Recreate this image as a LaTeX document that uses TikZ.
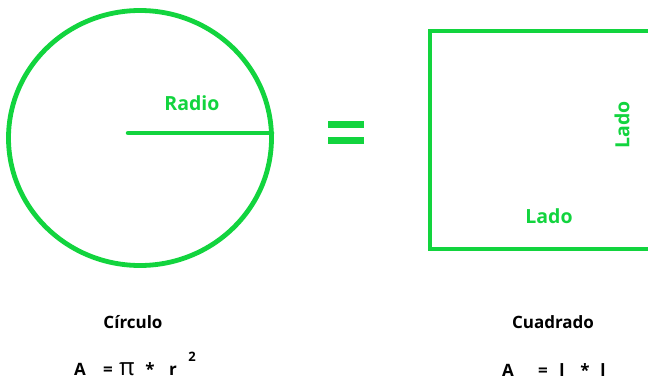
\documentclass[tikz,border=0pt]{standalone}
\usepackage{fontspec}
\setmainfont{Open Sans}
\usetikzlibrary{shapes.geometric}
\definecolor{gr}{RGB}{18,212,62}
\begin{document}
\begin{tikzpicture}[x=1pt,y=-1pt,
  gline/.style={draw=gr,line width=4.8pt},
  glabel/.style={text=gr,font=\fontsize{19.5}{22}\selectfont\bfseries,inner sep=0pt},
  blabel/.style={text=black,font=\fontsize{17}{19}\selectfont\bfseries,inner sep=0pt},
  eqsym/.style={text=black,font=\fontsize{17}{19}\selectfont\bfseries,inner sep=0pt,anchor=base}]
\useasboundingbox (0,0) rectangle (648,380);
% circle
\node[gline,ellipse,minimum width=263pt,minimum height=255pt,inner sep=0pt] (circ) at (140,138) {};
\coordinate (ctr) at (128,133);
\coordinate (rim) at (272,133);
\draw[draw=gr,line width=4.5pt,line cap=round] (ctr) -- (rim);
\node[glabel] (radio) at (192,103) {Radio};
% equals
\node[fill=gr,minimum width=36pt,minimum height=7pt,inner sep=0pt] (eq1) at (346,124) {};
\node[fill=gr,minimum width=36pt,minimum height=7pt,inner sep=0pt] (eq2) at (346,140) {};
% square
\draw[gline] (660,31) -- (430,31) -- (430,249) -- (660,249);
\node[glabel,rotate=90] (lado1) at (622,125) {Lado};
\node[glabel] (lado2) at (549,216) {Lado};
% bottom labels
\node[blabel] (circulo) at (133,322) {Círculo};
\node[blabel] (cuadrado) at (553,322) {Cuadrado};
\node[eqsym] (a1) at (80,375) {A};
\node[eqsym] (e1) at (108,375) {=};
\node[eqsym,font=\fontsize{24}{26}\selectfont] (pi) at (127,375) {π};
\node[eqsym] (s1) at (150,375) {*};
\node[eqsym] (r) at (173,375) {r};
\node[eqsym,font=\fontsize{13}{15}\selectfont\bfseries] (two) at (192,361) {2};
\node[eqsym] (a2) at (508,376) {A};
\node[eqsym] (e2) at (543,376) {=};
\node[eqsym] (l1) at (562,376) {l};
\node[eqsym] (s2) at (585,376) {*};
\node[eqsym] (l2) at (603,376) {l};
\end{tikzpicture}
\end{document}
